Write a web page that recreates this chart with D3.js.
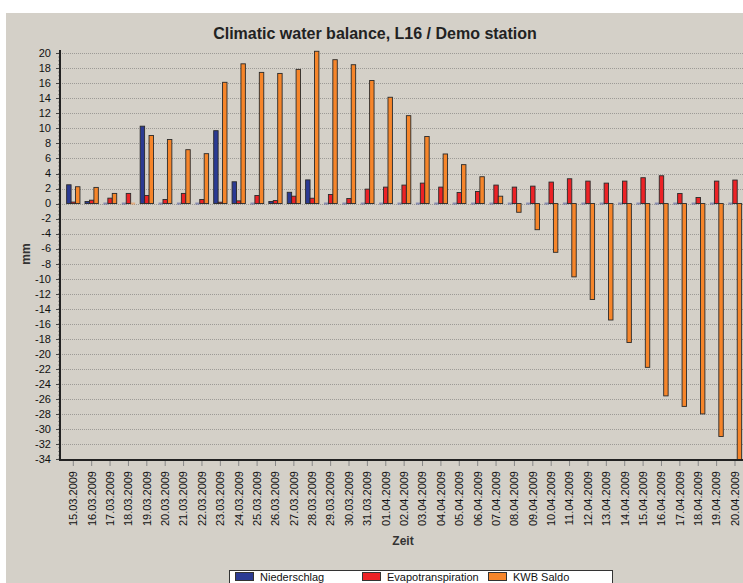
<!DOCTYPE html>
<html>
<head>
<meta charset="utf-8">
<script src="https://cdn.jsdelivr.net/npm/d3@7"></script>
<style>
  body { margin: 0; background: #fff; }
  text { font-family: "Liberation Sans", Arial, sans-serif; fill: #111; }
</style>
</head>
<body>
<script>
// data
var dates = ["15.03.2009","16.03.2009","17.03.2009","18.03.2009","19.03.2009","20.03.2009","21.03.2009",
  "22.03.2009","23.03.2009","24.03.2009","25.03.2009","26.03.2009","27.03.2009","28.03.2009","29.03.2009",
  "30.03.2009","31.03.2009","01.04.2009","02.04.2009","03.04.2009","04.04.2009","05.04.2009","06.04.2009",
  "07.04.2009","08.04.2009","09.04.2009","10.04.2009","11.04.2009","12.04.2009","13.04.2009","14.04.2009",
  "15.04.2009","16.04.2009","17.04.2009","18.04.2009","19.04.2009","20.04.2009"];
var niederschlag = [2.5, 0.27, 0, 0, 10.3, 0, 0, 0, 9.7, 2.9, 0, 0.27, 1.5, 3.15, 0, 0, 0,
  0, 0, 0, 0, 0, 0, 0, 0, 0, 0, 0, 0, 0, 0, 0, 0, 0, 0, 0, 0];
var evapo = [0.2, 0.45, 0.72, 1.35, 1.08, 0.54, 1.35, 0.54, 0.18, 0.36, 1.07, 0.4, 0.98, 0.71, 1.2, 0.67, 1.92,
  2.19, 2.46, 2.72, 2.19, 1.47, 1.6, 2.46, 2.19, 2.32, 2.86, 3.3, 2.99, 2.72, 2.99, 3.44, 3.7, 1.34, 0.8, 2.99, 3.13];
var saldo = [2.24, 2.15, 1.35, 0, 9.06, 8.52, 7.17, 6.64, 16.14, 18.6, 17.46, 17.32, 17.86, 20.27, 19.15, 18.48, 16.38,
  14.15, 11.7, 8.93, 6.6, 5.18, 3.57, 0.98, -1.16, -3.48, -6.49, -9.76, -12.77, -15.5, -18.5, -21.8, -25.6, -27.0, -28.0, -31.0, -34.2];
var seriesNames = ["Niederschlag", "Evapotranspiration", "KWB Saldo"];
var seriesColors = ["#2b3a93", "#ec2226", "#f6852a"];
var yTicks = d3.range(-34, 21, 2);

var width = 743, height = 583;
var plotLeft = 60, plotTop = 50, plotBottom = 460, plotRight = 748.3;

var svg = d3.select("body").append("svg")
    .attr("width", width)
    .attr("height", height);

// grey panel (white strip top and left)
svg.append("rect").attr("width", width).attr("height", height).attr("fill", "#fff");
svg.append("rect").attr("x", 6).attr("y", 13).attr("width", width).attr("height", height)
    .attr("fill", "#d4d0c8");

svg.append("text")
    .attr("x", 375).attr("y", 39)
    .attr("text-anchor", "middle")
    .style("font-size", "16px").style("font-weight", "bold").style("fill", "#222")
    .text("Climatic water balance, L16 / Demo station");

var y = d3.scaleLinear().domain([-34, 20]).range([459, 53.3]);

var x0 = d3.scaleBand().domain(dates).range([plotLeft, plotRight])
    .paddingInner(0).paddingOuter(0.2236);
var groupW = 13.3;
var x1 = d3.scaleBand().domain(seriesNames)
    .range([(x0.bandwidth() - groupW) / 2, (x0.bandwidth() + groupW) / 2]);

// grid lines
svg.append("g").selectAll("line")
    .data(yTicks)
    .enter().append("line")
    .attr("x1", plotLeft).attr("x2", width)
    .attr("y1", d => Math.round(y(d)) + 0.5).attr("y2", d => Math.round(y(d)) + 0.5)
    .attr("stroke", "#9c9a96").attr("stroke-dasharray", "1,1");

svg.append("clipPath").attr("id", "plot")
    .append("rect").attr("x", plotLeft).attr("y", plotTop)
    .attr("width", width).attr("height", plotBottom - plotTop);

var rows = dates.map(function(d, i) {
    return { date: d, values: [niederschlag[i], evapo[i], saldo[i]] };
});

var bars = svg.append("g").attr("clip-path", "url(#plot)");
var groups = bars.selectAll("g")
    .data(rows)
    .enter().append("g")
    .attr("transform", d => "translate(" + x0(d.date) + ",0)");

groups.selectAll("rect")
    .data(d => d.values.map((v, k) => ({ key: seriesNames[k], value: v, k: k })))
    .enter().append("rect")
    .attr("x", d => x1(d.key))
    .attr("y", d => d.value === 0 ? y(0) - 1 : y(Math.max(0, d.value)))
    .attr("width", x1.bandwidth())
    .attr("height", d => d.value === 0 ? 2 : Math.abs(y(d.value) - y(0)))
    .attr("fill", d => seriesColors[d.k])
    .attr("fill-opacity", d => d.value === 0 ? 0.45 : 1)
    .attr("stroke", d => d.value === 0 ? "none" : "#2a2a2a")
    .attr("stroke-width", 0.9);

// y axis
var yAxis = svg.append("g");
yAxis.selectAll("line.minor")
    .data(d3.range(-34, 20.01, 0.5))
    .enter().append("line")
    .attr("x1", plotLeft - 2).attr("x2", plotLeft)
    .attr("y1", d => y(d)).attr("y2", d => y(d))
    .attr("stroke", "#666").attr("stroke-width", 0.6);
yAxis.selectAll("line.major")
    .data(yTicks)
    .enter().append("line")
    .attr("x1", plotLeft - 4).attr("x2", plotLeft)
    .attr("y1", d => Math.round(y(d)) + 0.5).attr("y2", d => Math.round(y(d)) + 0.5)
    .attr("stroke", "#444");
yAxis.selectAll("text")
    .data(yTicks)
    .enter().append("text")
    .attr("x", 51).attr("y", d => y(d))
    .attr("dy", "0.35em")
    .attr("text-anchor", "end")
    .style("font-size", "11px")
    .text(d => d);
yAxis.append("line")
    .attr("x1", plotLeft).attr("x2", plotLeft).attr("y1", plotTop).attr("y2", plotBottom + 1)
    .attr("stroke", "#222").attr("stroke-width", 2);

// x axis
var xAxis = svg.append("g");
xAxis.append("line")
    .attr("x1", plotLeft - 1).attr("x2", width).attr("y1", plotBottom).attr("y2", plotBottom)
    .attr("stroke", "#222").attr("stroke-width", 2);
xAxis.selectAll("line.tick")
    .data(dates)
    .enter().append("line")
    .attr("x1", d => x0(d) + x0.bandwidth() / 2).attr("x2", d => x0(d) + x0.bandwidth() / 2)
    .attr("y1", plotBottom + 1).attr("y2", plotBottom + 6)
    .attr("stroke", "#888");
xAxis.selectAll("text")
    .data(dates)
    .enter().append("text")
    .attr("transform", d => "translate(" + (x0(d) + x0.bandwidth() / 2) + "," + 471 + ") rotate(-90)")
    .attr("dy", "0.35em")
    .attr("text-anchor", "end")
    .style("font-size", "11px")
    .text(d => d);

svg.append("text")
    .attr("x", 403).attr("y", 545)
    .attr("text-anchor", "middle")
    .style("font-size", "12px").style("font-weight", "bold").style("fill", "#333")
    .text("Zeit");

svg.append("text")
    .attr("transform", "translate(30,254) rotate(-90)")
    .attr("text-anchor", "middle")
    .style("font-size", "12px").style("font-weight", "bold").style("fill", "#333")
    .text("mm");

// legend
var legend = svg.append("g");
legend.append("rect")
    .attr("x", 229.5).attr("y", 570.5).attr("width", 383).attr("height", 20)
    .attr("fill", "#fff").attr("stroke", "#333");
var legendX = [235, 362, 488];
var item = legend.selectAll("g")
    .data(seriesNames)
    .enter().append("g")
    .attr("transform", (d, i) => "translate(" + legendX[i] + ",572)");
item.append("rect")
    .attr("x", 0.5).attr("y", 0.5).attr("width", 18).attr("height", 8)
    .attr("fill", (d, i) => seriesColors[i]).attr("stroke", "#333");
item.append("text")
    .attr("x", 25).attr("y", 9)
    .style("font-size", "11px")
    .text(d => d);
</script>
</body>
</html>
